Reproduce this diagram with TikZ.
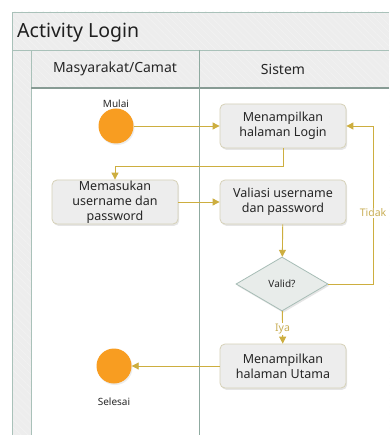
\documentclass[tikz,border=0pt]{standalone}
\usepackage{fontspec}
\setmainfont{Noto Sans}
\usetikzlibrary{arrows.meta,shapes.geometric,shadows,patterns.meta}

\definecolor{frameline}{HTML}{A9C1B9}
\definecolor{laneline}{HTML}{8FAAA0}
\definecolor{framefill}{HTML}{EDEDED}
\definecolor{flow}{HTML}{CDAE3F}
\definecolor{flowtext}{HTML}{C9AE55}
\definecolor{startfill}{HTML}{F89D21}
\definecolor{boxfill}{HTML}{EDEDED}
\definecolor{boxline}{HTML}{D6D1B8}
\definecolor{decfill}{HTML}{E8ECEA}
\definecolor{decline}{HTML}{A7BDB6}
\definecolor{hatch}{HTML}{F3F3F3}

\tikzset{
  actbox/.style={draw=boxline, line width=0.8pt, rounded corners=5pt,
    fill=boxfill, minimum width=126pt, minimum height=44pt, align=center,
    inner sep=0pt, font=\fontsize{12.5}{15}\selectfont, text=black!85,
    drop shadow={opacity=0.2, shadow xshift=1.2pt, shadow yshift=-1.8pt}},
  decision/.style={diamond, aspect=1.7, draw=decline, line width=0.8pt,
    fill=decfill, minimum width=92pt, minimum height=54pt, inner sep=0pt,
    font=\fontsize{10}{12}\selectfont, text=black!85,
    drop shadow={opacity=0.2, shadow xshift=1.2pt, shadow yshift=-1.8pt}},
  terminal/.style={circle, fill=startfill, minimum size=35pt, inner sep=0pt,
    drop shadow={opacity=0.15, shadow xshift=1pt, shadow yshift=-1.5pt}},
  smalllabel/.style={font=\fontsize{10}{12}\selectfont, text=black!85, inner sep=0pt},
  flowline/.style={draw=flow, line width=0.9pt,
    -{Triangle[length=7pt,width=7pt]}},
  flowlabel/.style={fill=white, font=\fontsize{10.5}{12}\selectfont,
    text=flowtext, inner sep=1pt},
}

\begin{document}
\begin{tikzpicture}[x=1pt,y=-1pt]
\useasboundingbox (0,0) rectangle (389,435);

% pool frame: title band, left strip, lane headers
\fill[framefill] (12,12) rectangle (389,435);
\fill[pattern={Lines[angle=-45,distance=5pt,line width=0.5pt]}, pattern color=hatch]
  (12,12) rectangle (389,435);
\fill[white] (31,88) rectangle (389,435);
\draw[frameline, line width=0.8pt] (389,12) -- (12,12) -- (12,435);
\draw[frameline, line width=0.8pt] (12,50) -- (389,50);
\draw[frameline, line width=0.8pt] (31,50) -- (31,435);
\draw[frameline!80!black, line width=1.4pt] (31,88) -- (389,88);
\draw[laneline, line width=0.8pt] (199,50) -- (199,435);

\node[anchor=base west, inner sep=0pt, font=\fontsize{19.5}{22}\selectfont, text=black!88]
  (title) at (17,38) {Activity Login};
\node[font=\fontsize{14}{16}\selectfont, text=black!85] (laneA) at (115,69) {Masyarakat/Camat};
\node[font=\fontsize{14}{16}\selectfont, text=black!85] (laneB) at (283,69) {Sistem};

% activities
\node[terminal] (start) at (116,126) {};
\node[smalllabel, anchor=south] (startlbl) at (116,108) {Mulai};
\node[actbox] (login) at (283,126) {Menampilkan\\halaman Login};
\node[actbox] (input) at (115,202) {Memasukan\\username dan\\password};
\node[actbox] (check) at (283,202) {Valiasi username\\dan password};
\node[decision] (valid) at (282,284) {Valid?};
\node[actbox] (home) at (283,366) {Menampilkan\\halaman Utama};
\node[terminal] (stop) at (114,366) {};
\node[smalllabel, anchor=north] (stoplbl) at (114,398) {Selesai};

\coordinate (tidakturn) at (373,284);

% control flow
\draw[flowline] (start) -- (login);
\draw[flowline] (login.south) -- ++(0,18) -| (input.north);
\draw[flowline] (input) -- (check);
\draw[flowline] (check) -- (valid);
\draw[flowline] (valid.east) -- (tidakturn) |- (login.east)
  node[flowlabel, pos=0.225] (tidak) {Tidak};
\draw[flowline] (valid) -- (home) node[flowlabel, pos=0.55] (iya) {Iya};
\draw[flowline] (home) -- (stop);
\end{tikzpicture}
\end{document}
